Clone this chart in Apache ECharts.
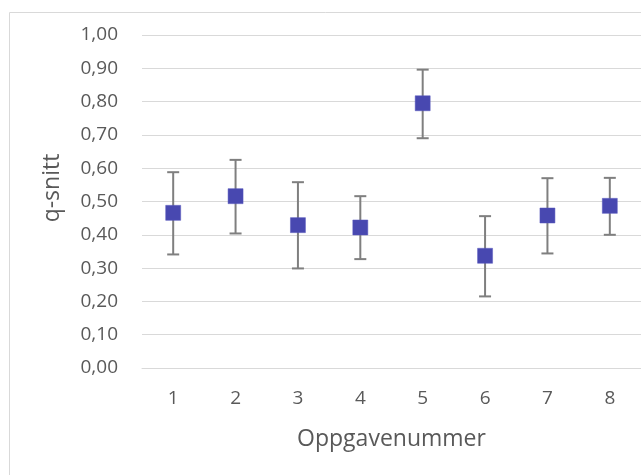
<!DOCTYPE html>
<html>
<head>
<meta charset="utf-8">
<script src="https://cdn.jsdelivr.net/npm/echarts@6/dist/echarts.min.js"></script>
<style>html,body{margin:0;padding:0;background:#fff}#c{width:641px;height:475px}</style>
</head>
<body>
<div id="c"></div>
<script>
const categories = ['1','2','3','4','5','6','7','8'];
const means = [0.466, 0.516, 0.429, 0.422, 0.795, 0.337, 0.458, 0.487];
const upper = [0.588, 0.625, 0.558, 0.516, 0.896, 0.456, 0.570, 0.571];
const lower = [0.341, 0.404, 0.299, 0.327, 0.690, 0.215, 0.344, 0.400];
const yTicks = [0, 0.1, 0.2, 0.3, 0.4, 0.5, 0.6, 0.7, 0.8, 0.9, 1.0];

const font = 'Open Sans';
const textColor = '#595959';
const chart = echarts.init(document.getElementById('c'), null, {renderer: 'canvas'});
const errData = categories.map((c, i) => [i, lower[i], upper[i]]);
chart.setOption({
  animation: false,
  graphic: [{
    type: 'rect', shape: {x: 9.5, y: 12.5, width: 700, height: 500},
    style: {fill: 'none', stroke: '#d9d9d9', lineWidth: 1}, silent: true, z: -1
  }],
  grid: {left: 142, top: 35, width: 504, height: 333},
  xAxis: {
    type: 'category', data: categories,
    name: 'Oppgavenummer', nameLocation: 'middle', nameGap: 60,
    nameTextStyle: {fontFamily: font, fontSize: 23, color: textColor},
    axisLine: {show: true, lineStyle: {color: '#d9d9d9', width: 1}},
    axisTick: {show: false},
    axisLabel: {fontFamily: font, fontSize: 19, color: textColor, margin: 21},
    splitLine: {show: false}
  },
  yAxis: {
    type: 'value', min: 0, max: 1, interval: 0.1,
    name: 'q-snitt', nameLocation: 'middle', nameGap: 78, nameRotate: 90,
    nameTextStyle: {fontFamily: font, fontSize: 23, color: textColor, padding: [0, 0, 0, 27]},
    axisLine: {show: false}, axisTick: {show: false},
    axisLabel: {
      fontFamily: font, fontSize: 19, color: textColor, margin: 24,
      formatter: v => {
        const t = yTicks.find(t => Math.abs(t - v) < 1e-9);
        return (t !== undefined ? t : v).toFixed(2).replace('.', ',');
      }
    },
    splitLine: {lineStyle: {color: '#d9d9d9', width: 1}}
  },
  series: [{
    type: 'custom',
    data: errData,
    z: 2,
    renderItem: (params, api) => {
      const x = api.value(0);
      const lo = api.coord([x, api.value(1)]);
      const hi = api.coord([x, api.value(2)]);
      const hw = 6;
      const st = {stroke: '#7f7f7f', lineWidth: 2};
      return {
        type: 'group',
        children: [
          {type: 'line', shape: {x1: lo[0], y1: lo[1], x2: hi[0], y2: hi[1]}, style: st},
          {type: 'line', shape: {x1: lo[0] - hw, y1: lo[1], x2: lo[0] + hw, y2: lo[1]}, style: st},
          {type: 'line', shape: {x1: hi[0] - hw, y1: hi[1], x2: hi[0] + hw, y2: hi[1]}, style: st}
        ]
      };
    }
  }, {
    type: 'scatter',
    data: means,
    symbol: 'rect', symbolSize: 15,
    z: 3,
    itemStyle: {color: '#4848b0', opacity: 1, borderColor: '#5656bc', borderWidth: 0.5}
  }]
});
</script>
</body>
</html>
